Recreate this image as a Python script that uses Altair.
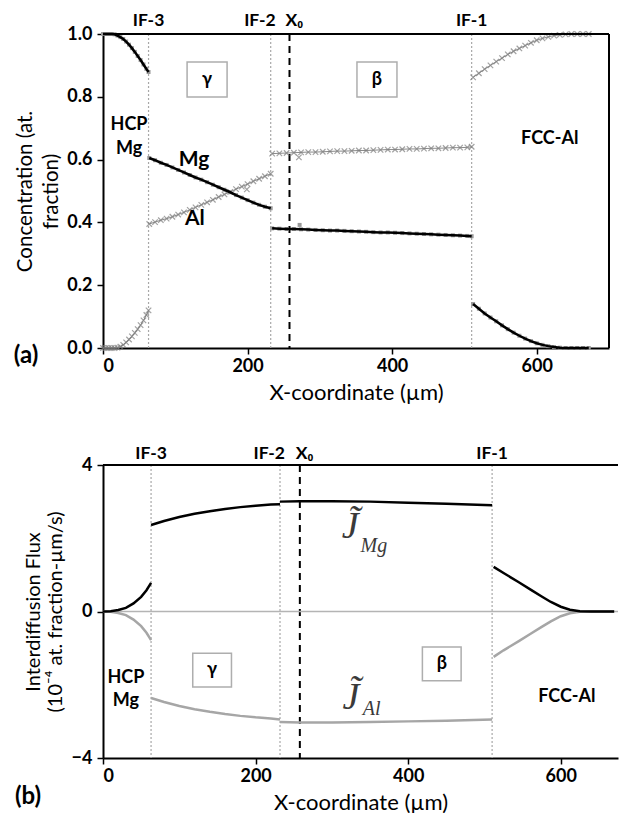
import altair as alt
import pandas as pd

# ---------------- data ----------------
if_x = [63, 232, 510]
if_names = ["IF-3", "IF-2", "IF-1"]
x0 = 258

# (a) concentration (at. fraction) vs X-coordinate (µm)
hcp_x = [0, 4, 8, 12, 16, 20, 24, 28, 32, 36, 40, 44, 48, 52, 56, 60, 63]
mg_hcp = [1.0, 1.0, 1.0, 1.0, 0.999, 0.995, 0.99, 0.984, 0.976, 0.966, 0.955, 0.943, 0.93, 0.917, 0.903, 0.889, 0.879]
al_hcp = [0.0, 0.0, 0.0, 0.0, 0.0, 0.001, 0.004, 0.01, 0.018, 0.027, 0.037, 0.048, 0.06, 0.073, 0.088, 0.105, 0.12]

gam_x = [64, 72, 80, 88, 96, 104, 112, 120, 128, 136, 144, 152, 160, 168, 176, 184, 192, 200, 208, 216, 224, 232]
mg_gam = [0.605, 0.598, 0.59, 0.583, 0.575, 0.567, 0.559, 0.551, 0.543, 0.536, 0.528, 0.52, 0.512, 0.504, 0.496, 0.487, 0.479, 0.471, 0.463, 0.456, 0.45, 0.445]
al_gam = [0.395, 0.401, 0.407, 0.412, 0.418, 0.425, 0.432, 0.44, 0.448, 0.456, 0.464, 0.472, 0.481, 0.489, 0.497, 0.506, 0.514, 0.522, 0.531, 0.539, 0.547, 0.555]

bet_x = [234, 244, 254, 264, 274, 284, 294, 304, 314, 324, 334, 344, 354, 364, 374, 384, 394, 404, 414, 424, 434, 444, 454, 464, 474, 484, 494, 504, 510]
al_bet = [0.619, 0.62, 0.621, 0.622, 0.623, 0.624, 0.624, 0.625, 0.626, 0.627, 0.627, 0.628, 0.629, 0.629, 0.63, 0.631, 0.632, 0.632, 0.633, 0.634, 0.634, 0.635, 0.636, 0.636, 0.637, 0.638, 0.638, 0.639, 0.641]
mg_bet = [0.381, 0.38, 0.379, 0.379, 0.378, 0.377, 0.376, 0.375, 0.374, 0.374, 0.373, 0.372, 0.371, 0.37, 0.369, 0.368, 0.368, 0.367, 0.366, 0.365, 0.364, 0.363, 0.362, 0.361, 0.36, 0.359, 0.358, 0.357, 0.356]

fcc_x = [512, 520, 528, 536, 544, 552, 560, 568, 576, 584, 592, 600, 608, 616, 624, 632, 640, 648, 656, 664, 672]
al_fcc = [0.862, 0.875, 0.888, 0.9, 0.912, 0.923, 0.935, 0.945, 0.954, 0.963, 0.972, 0.98, 0.986, 0.991, 0.995, 0.997, 0.999, 1.0, 1.0, 1.0, 1.0]
mg_fcc = [0.14, 0.125, 0.11, 0.097, 0.085, 0.072, 0.06, 0.049, 0.039, 0.03, 0.022, 0.015, 0.01, 0.006, 0.003, 0.001, 0.0, 0.0, 0.0, 0.0, 0.0]

al_out_x = [199, 271]
al_out_y = [0.505, 0.607]
mg_out_x = [272]
mg_out_y = [0.392]

# (b) interdiffusion flux (1e-4 at. fraction-µm/s)
jh_x = [0, 10, 20, 30, 40, 50, 57, 63]
jmg_h = [0.0, 0.01, 0.04, 0.1, 0.22, 0.4, 0.58, 0.78]
jal_h = [0.0, -0.01, -0.04, -0.1, -0.22, -0.4, -0.58, -0.78]
jg_x = [63, 80, 100, 120, 140, 160, 180, 200, 220, 232]
jmg_g = [2.36, 2.47, 2.58, 2.67, 2.74, 2.8, 2.85, 2.89, 2.92, 2.93]
jal_g = [-2.36, -2.47, -2.58, -2.67, -2.74, -2.8, -2.85, -2.89, -2.92, -2.95]
jb_x = [232, 258, 300, 350, 400, 450, 510]
jmg_b = [3.0, 3.01, 3.01, 3.0, 2.97, 2.94, 2.9]
jal_b = [-3.02, -3.03, -3.03, -3.02, -3.0, -2.98, -2.95]
jf_x = [512, 525, 545, 561, 575, 587, 600, 612, 625, 640, 655, 670]
jmg_f = [1.22, 1.05, 0.8, 0.59, 0.41, 0.26, 0.13, 0.05, 0.01, 0.0, 0.0, 0.0]
jal_f = [-1.24, -1.06, -0.81, -0.6, -0.42, -0.27, -0.13, -0.05, -0.01, 0.0, 0.0, 0.0]


def seg(xs, ys, name):
    return pd.DataFrame({"x": xs, "y": ys, "seg": name})


mg_df = pd.concat([seg(hcp_x, mg_hcp, "h"), seg(gam_x, mg_gam, "g"),
                   seg(bet_x, mg_bet, "b"), seg(fcc_x, mg_fcc, "f")])
al_df = pd.concat([seg(hcp_x, al_hcp, "h"), seg(gam_x, al_gam, "g"),
                   seg(bet_x, al_bet, "b"), seg(fcc_x, al_fcc, "f")])
al_pts = pd.concat([al_df, seg(al_out_x, al_out_y, "o")])
mg_pts = pd.concat([mg_df, seg(mg_out_x, mg_out_y, "o")])

jmg_df = pd.concat([seg(jh_x, jmg_h, "h"), seg(jg_x, jmg_g, "g"),
                    seg(jb_x, jmg_b, "b"), seg(jf_x, jmg_f, "f")])
jal_df = pd.concat([seg(jh_x, jal_h, "h"), seg(jg_x, jal_g, "g"),
                    seg(jb_x, jal_b, "b"), seg(jf_x, jal_f, "f")])

if_df = pd.DataFrame({"x": if_x, "name": if_names})

FONT = "Lato"
XMAX_A = 700
XMAX_B = 675
BOX = "M-1,-0.875H1V0.875H-1Z"
XMARK = "M-1,-1L1,1M-1,1L1,-1"


def x_enc(xmax):
    return alt.X("x:Q", scale=alt.Scale(domain=[0, xmax], nice=False, zero=False),
                 axis=alt.Axis(values=[0, 200, 400, 600], title="X-coordinate (µm)",
                               labelPadding=3, titlePadding=7, titleFontSize=22))


# ---------------- panel (a) ----------------
HA = 314
xa = x_enc(XMAX_A)
ya = alt.Y("y:Q", scale=alt.Scale(domain=[0, 1], nice=False),
           axis=alt.Axis(values=[0, 0.2, 0.4, 0.6, 0.8, 1.0], format=".1f",
                         title=["Concentration (at.", "fraction)"], titleFontSize=20.5,
                         titleX=-78, titleY=HA / 2, titleAngle=270,
                         titleBaseline="middle", titleLineHeight=26))

if_a = alt.Chart(if_df).mark_rule(color="#a8a8a8", strokeDash=[2, 2], strokeWidth=1.2).encode(x=xa)
x0_a = alt.Chart(pd.DataFrame({"x": [x0]})).mark_rule(color="black", strokeDash=[7, 5], strokeWidth=2).encode(x=xa)
al_line = alt.Chart(al_df).mark_line(color="#8a8a8a", strokeWidth=1).encode(x=xa, y=ya, detail="seg:N")
al_mark = alt.Chart(al_pts).mark_point(shape=XMARK, size=30, filled=False, color="#7c7c7c", strokeWidth=1.2).encode(x=xa, y=ya)
mg_mark = alt.Chart(mg_pts).mark_square(size=16, color="#9a9a9a", opacity=1).encode(x=xa, y=ya)
mg_line = alt.Chart(mg_df).mark_line(color="black", strokeWidth=2.5).encode(x=xa, y=ya, detail="seg:N")
top_a = alt.Chart().mark_rule(color="black", strokeWidth=2).encode(y=alt.datum(1.0))
right_a = alt.Chart().mark_rule(color="black", strokeWidth=2).encode(x=alt.datum(XMAX_A))

if_lab_a = alt.Chart(pd.DataFrame({"x": [63, 510], "t": ["IF-3", "IF-1"]})).mark_text(
    font=FONT, fontWeight="bold", fontSize=17.5, baseline="middle").encode(x=xa, y=alt.value(-13), text="t:N")
if2_a = alt.Chart(pd.DataFrame({"x": [232], "t": ["IF-2"]})).mark_text(
    font=FONT, fontWeight="bold", fontSize=17.5, baseline="middle", align="right", dx=5).encode(x=xa, y=alt.value(-13), text="t:N")
x0lab_a = alt.Chart(pd.DataFrame({"x": [x0], "t": ["X₀"]})).mark_text(
    font=FONT, fontWeight="bold", fontSize=17.5, baseline="middle", align="left", dx=-4).encode(x=xa, y=alt.value(-13), text="t:N")

lab_a = pd.DataFrame({"x": [36, 618], "y": [0.71, 0.665], "t": ["HCP\nMg", "FCC-Al"]})
lab_a_ch = alt.Chart(lab_a).mark_text(font=FONT, fontWeight="bold", fontSize=18, lineBreak="\n",
                                      lineHeight=24, baseline="middle").encode(x=xa, y=ya, text="t:N")
sp_a = pd.DataFrame({"x": [126, 127], "y": [0.6, 0.41], "t": ["Mg", "Al"]})
sp_a_ch = alt.Chart(sp_a).mark_text(font=FONT, fontWeight="bold", fontSize=21, baseline="middle").encode(
    x=xa, y=ya, text="t:N")
ph_a = pd.DataFrame({"x": [144, 379], "y": [0.855, 0.855], "t": ["γ", "β"]})
box_a = alt.Chart(ph_a).mark_point(shape=BOX, size=1600, filled=False, color="#8c8c8c", strokeWidth=1.5).encode(x=xa, y=ya)
phl_a = alt.Chart(ph_a).mark_text(font=FONT, fontWeight="bold", fontSize=18, baseline="middle").encode(x=xa, y=ya, text="t:N")
tag_a = alt.Chart(pd.DataFrame({"t": ["(a)"]})).mark_text(font=FONT, fontWeight="bold", fontSize=24, baseline="middle").encode(
    x=alt.value(-77), y=alt.value(HA + 8), text="t:N")

panel_a = alt.layer(if_a, x0_a, al_line, al_mark, mg_mark, mg_line, top_a, right_a,
                    if_lab_a, if2_a, x0lab_a, lab_a_ch, sp_a_ch, box_a, phl_a, tag_a).properties(width=506, height=HA)

# ---------------- panel (b) ----------------
HB = 293
xb = x_enc(XMAX_B)
yb = alt.Y("y:Q", scale=alt.Scale(domain=[-4, 4], nice=False),
           axis=alt.Axis(values=[-4, 0, 4], format="d",
                         title=["Interdiffusion Flux", "(10⁻⁴ at. fraction-µm/s)"], titleFontSize=20,
                         titleX=-70, titleY=HB / 2, titleAngle=270,
                         titleBaseline="middle", titleLineHeight=22))

if_b = alt.Chart(if_df).mark_rule(color="#a8a8a8", strokeDash=[2, 2], strokeWidth=1.2).encode(x=xb)
x0_b = alt.Chart(pd.DataFrame({"x": [x0]})).mark_rule(color="black", strokeDash=[7, 5], strokeWidth=2).encode(x=xb)
zero_b = alt.Chart().mark_rule(color="#b4b4b4", strokeWidth=1.5).encode(y=alt.datum(0))
jal_line = alt.Chart(jal_df).mark_line(color="#a6a6a6", strokeWidth=2.5).encode(x=xb, y=yb, detail="seg:N")
jmg_line = alt.Chart(jmg_df).mark_line(color="black", strokeWidth=2.5).encode(x=xb, y=yb, detail="seg:N")
top_b = alt.Chart().mark_rule(color="black", strokeWidth=2).encode(y=alt.datum(4))

if_lab_b = alt.Chart(pd.DataFrame({"x": [63, 510], "t": ["IF-3", "IF-1"]})).mark_text(
    font=FONT, fontWeight="bold", fontSize=17.5, baseline="middle").encode(x=xb, y=alt.value(-11), text="t:N")
if2_b = alt.Chart(pd.DataFrame({"x": [232], "t": ["IF-2"]})).mark_text(
    font=FONT, fontWeight="bold", fontSize=17.5, baseline="middle", align="right", dx=5).encode(x=xb, y=alt.value(-11), text="t:N")
x0lab_b = alt.Chart(pd.DataFrame({"x": [x0], "t": ["X₀"]})).mark_text(
    font=FONT, fontWeight="bold", fontSize=17.5, baseline="middle", align="left", dx=-4).encode(x=xb, y=alt.value(-11), text="t:N")

lab_b = pd.DataFrame({"x": [30, 608], "y": [-1.82, -2.34], "t": ["HCP\nMg", "FCC-Al"]})
lab_b_ch = alt.Chart(lab_b).mark_text(font=FONT, fontWeight="bold", fontSize=18, lineBreak="\n",
                                      lineHeight=23, baseline="middle").encode(x=xb, y=yb, text="t:N")
ph_b = pd.DataFrame({"x": [143, 444], "y": [-1.6, -1.43], "t": ["γ", "β"]})
box_b = alt.Chart(ph_b).mark_point(shape=BOX, size=1500, filled=False, color="#8c8c8c", strokeWidth=1.5).encode(x=xb, y=yb)
phl_b = alt.Chart(ph_b).mark_text(font=FONT, fontWeight="bold", fontSize=18, baseline="middle").encode(x=xb, y=yb, text="t:N")

# J-tilde labels: letter with combining tilde, plus subscript
j_main = pd.DataFrame({"x": [324, 325], "y": [2.3, -2.35], "t": ["J\u0303", "J\u0303"]})
j_sub = pd.DataFrame({"x": [355, 352], "y": [1.8, -2.66], "t": ["Mg", "Al"]})
jm_ch = alt.Chart(j_main).mark_text(font="Liberation Serif", fontStyle="italic", fontSize=38,
                                    baseline="middle", color="#3a3a3a").encode(x=xb, y=yb, text="t:N")
js_ch = alt.Chart(j_sub).mark_text(font="Liberation Serif", fontStyle="italic", fontSize=20,
                                   baseline="middle", color="#3a3a3a").encode(x=xb, y=yb, text="t:N")
tag_b = alt.Chart(pd.DataFrame({"t": ["(b)"]})).mark_text(font=FONT, fontWeight="bold", fontSize=24, baseline="middle").encode(
    x=alt.value(-75), y=alt.value(HB + 39), text="t:N")

panel_b = alt.layer(if_b, x0_b, zero_b, jal_line, jmg_line, top_b,
                    if_lab_b, if2_b, x0lab_b, lab_b_ch, box_b, phl_b, jm_ch, js_ch, tag_b).properties(width=515, height=HB)

chart = alt.vconcat(panel_a, panel_b, spacing=117, bounds="flush").properties(
    padding={"left": 5, "top": 4, "right": 0, "bottom": 0}
).configure_view(stroke=None).configure_axis(
    grid=False, domainColor="black", domainWidth=2, tickColor="black", tickWidth=1.5, tickSize=6,
    labelFont=FONT, labelFontWeight="bold", labelFontSize=18, labelColor="black",
    titleFont=FONT, titleFontWeight="normal", titleColor="black"
).configure_axisY(labelPadding=5).configure_text(color="black")

chart.save("out.html", embed_options={"renderer": "svg", "actions": False})
